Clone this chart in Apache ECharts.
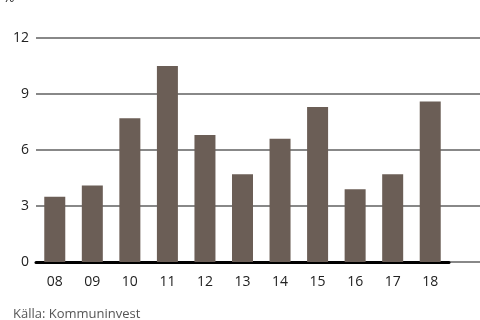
<!DOCTYPE html>
<html><head><meta charset="utf-8">
<script src="https://cdn.jsdelivr.net/npm/echarts@6/dist/echarts.min.js"></script>
<style>html,body{margin:0;padding:0;background:#fff}#c{width:480px;height:320px}</style>
</head><body><div id="c"></div>
<script>
const categories = ['08','09','10','11','12','13','14','15','16','17','18'];
const values = [3.5, 4.1, 7.7, 10.5, 6.8, 4.7, 6.6, 8.3, 3.9, 4.7, 8.6];
const yTicks = [0, 3, 6, 9, 12];
const unitLabel = '%';
const sourceText = 'Källa: Kommuninvest';

const font = "'Open Sans', sans-serif";
const chart = echarts.init(document.getElementById('c'), null, {renderer: 'canvas'});
chart.setOption({
  animation: false,
  grid: [
    {left: 36, width: 413, top: 38, height: 224},
    {left: 36, right: 0, top: 38, height: 224}
  ],
  xAxis: [
    {type: 'category', gridIndex: 0, data: categories,
     axisLine: {show: true, lineStyle: {color: '#000', width: 3}},
     axisTick: {show: false},
     axisLabel: {color: '#222', fontSize: 14, fontFamily: font, margin: 13}},
    {type: 'value', gridIndex: 1, min: 0, max: 1, show: false}
  ],
  yAxis: [
    {type: 'value', gridIndex: 0, min: 0, max: 12, interval: 3, show: false},
    {type: 'value', gridIndex: 1, min: yTicks[0], max: yTicks[yTicks.length-1], interval: 3,
     axisLine: {show: false}, axisTick: {show: false},
     axisLabel: {color: '#222', fontSize: 14, fontFamily: font, margin: 7},
     splitLine: {lineStyle: {color: '#888', width: 2}}}
  ],
  graphic: [
    {type: 'text', left: 3, top: -9, style: {text: unitLabel, fill: '#222', font: '14px ' + font}},
    {type: 'text', left: 13, top: 308, style: {text: sourceText, fill: '#555', font: '13px ' + font}}
  ],
  series: [
    {type: 'bar', xAxisIndex: 0, yAxisIndex: 0, data: values, barWidth: 21,
     itemStyle: {color: '#6b5e56'}, z: 3}
  ]
});
</script></body></html>
